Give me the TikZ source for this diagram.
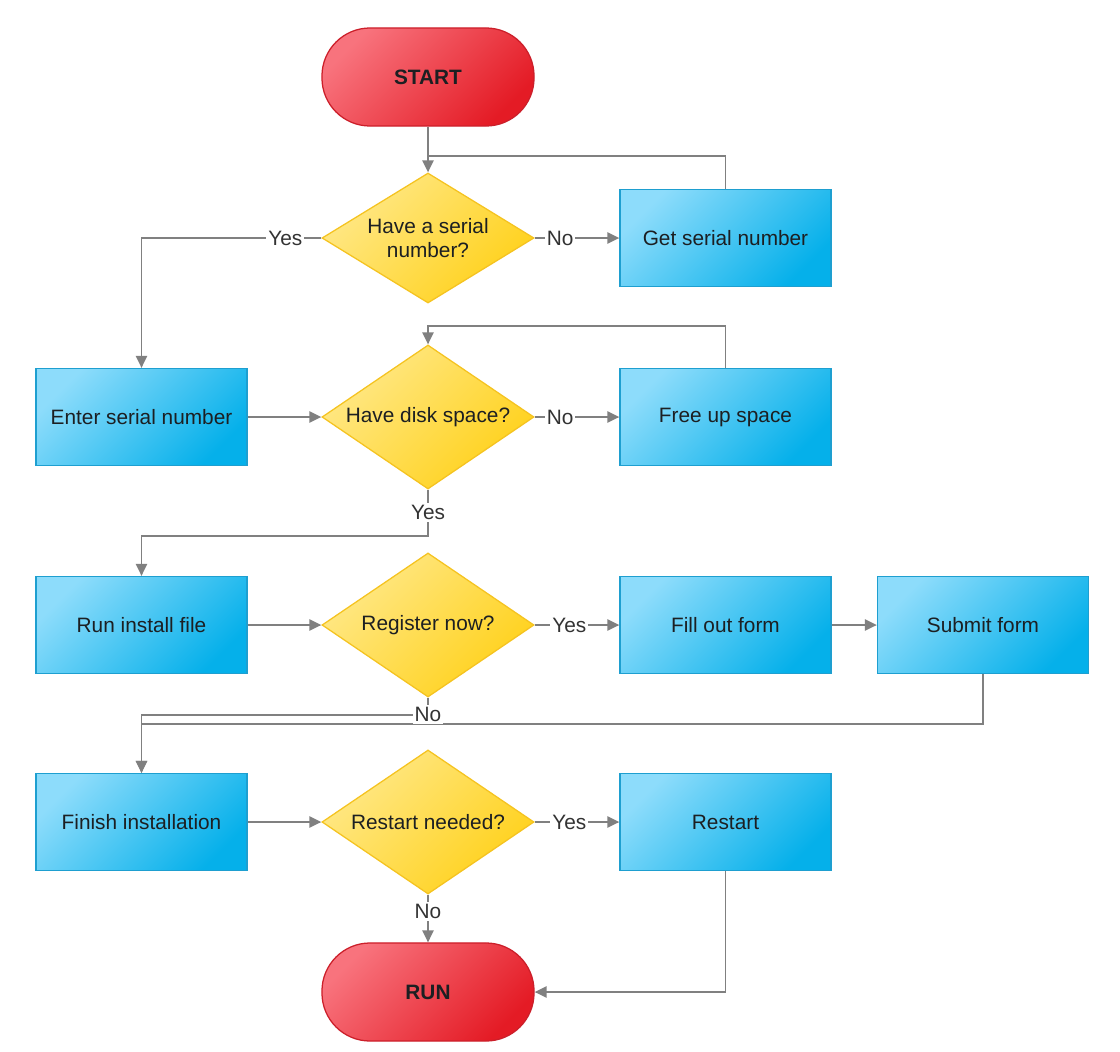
\documentclass[tikz,border=0pt]{standalone}
\usepackage{fontspec}
\setmainfont{Liberation Sans}
\usepackage{xcolor}
\usetikzlibrary{shapes.geometric}
\usetikzlibrary{arrows.meta}
\definecolor{boxlight}{HTML}{8DDCFB}
\definecolor{boxdark}{HTML}{05B0EA}
\definecolor{boxedge}{HTML}{1E9FD0}
\definecolor{declight}{HTML}{FFE888}
\definecolor{decdark}{HTML}{FFD11A}
\definecolor{decedge}{HTML}{F5C320}
\definecolor{termlight}{HTML}{F8737D}
\definecolor{termdark}{HTML}{E41B25}
\definecolor{termedge}{HTML}{CC1F2A}
\definecolor{linegray}{HTML}{808080}
\definecolor{textdark}{HTML}{1C1F22}
\definecolor{labelgray}{HTML}{333333}
\newcommand{\flowfont}{\fontsize{14.8}{16.8}\selectfont}

\begin{document}
\begin{tikzpicture}[
			     x=0.025cm, y=-0.025cm,
			     font=\flowfont, text=textdark,
			     >={Triangle[length=8.5pt,width=8pt]},
			     process/.style={rectangle, draw=boxedge, line width=0.9pt, top color=boxlight, bottom color=boxdark, shading angle=45, minimum width=5.275cm, minimum height=2.425cm},
			     decision/.style={diamond, draw=decedge, line width=0.9pt, top color=declight, bottom color=decdark, shading angle=45, aspect=1.47, inner sep=0pt, align=center, minimum width=5.3cm, minimum height=3.6cm},
			     terminal/.style={rectangle, rounded corners=1.2cm, draw=termedge, line width=0.9pt, top color=termlight, bottom color=termdark, shading angle=45, minimum width=5.3cm, minimum height=2.45cm, font=\flowfont\bfseries},
			     descr/.style={fill=white, inner sep=1.5pt, text=labelgray},
			     normal line/.style={draw=linegray, line width=1.3pt},
			     flow/.style={normal line, ->}
			     ]
\useasboundingbox (0,0) rectangle (1120,1052);
% shapes
\node[terminal] (start) at (428,77) {START};
\node[decision, minimum height=3.25cm] (serialq) at (428,238) {Have a serial\\number?};
\node[process] (getserial) at (725.5,238) {Get serial number};
\node[process] (enterserial) at (141.5,417) {Enter serial number};
\node[decision] (diskq) at (428,417) {Have disk space?};
\node[process] (freeup) at (725.5,417) {Free up space};
\node[process] (runinstall) at (141.5,625) {Run install file};
\node[decision] (registerq) at (428,625) {Register now?};
\node[process] (fillform) at (725.5,625) {Fill out form};
\node[process] (submitform) at (983,625) {Submit form};
\node[process] (finish) at (141.5,822) {Finish installation};
\node[decision] (restartq) at (428,822) {Restart needed?};
\node[process] (restart) at (725.5,822) {Restart};
\node[terminal] (run) at (428,992) {RUN};
\coordinate (loopin) at (428,156);
% connectors
\draw[flow] (start) -- (serialq);
\draw[normal line] (getserial.north) |- (loopin);
\draw[flow] (serialq.west) -| node[descr, pos=0.1] {Yes} (enterserial.north);
\draw[flow] (serialq.east) -- node[descr, pos=0.3] {No} (getserial.west);
\draw[flow] (enterserial) -- (diskq);
\draw[flow] (diskq.east) -- node[descr, pos=0.3] {No} (freeup.west);
\draw[flow] (freeup.north) -- ++(0,-42) -| (diskq.north);
\draw[flow] (diskq.south) -- node[descr] {Yes} ++(0,46) -| (runinstall.north);
\draw[flow] (runinstall) -- (registerq);
\draw[flow] (registerq.east) -- node[descr, pos=0.41] {Yes} (fillform.west);
\draw[flow] (fillform) -- (submitform);
\draw[flow] (submitform.south) -- ++(0,50) -| (finish.north);
\draw[flow] (registerq.south) -- ++(0,17) node[descr] {No} -| (finish.north);
\draw[flow] (finish) -- (restartq);
\draw[flow] (restartq.east) -- node[descr, pos=0.41] {Yes} (restart.west);
\draw[flow] (restartq.south) -- node[descr, pos=0.35] {No} (run.north);
\draw[flow] (restart.south) |- (run.east);
\end{tikzpicture}
\end{document}
